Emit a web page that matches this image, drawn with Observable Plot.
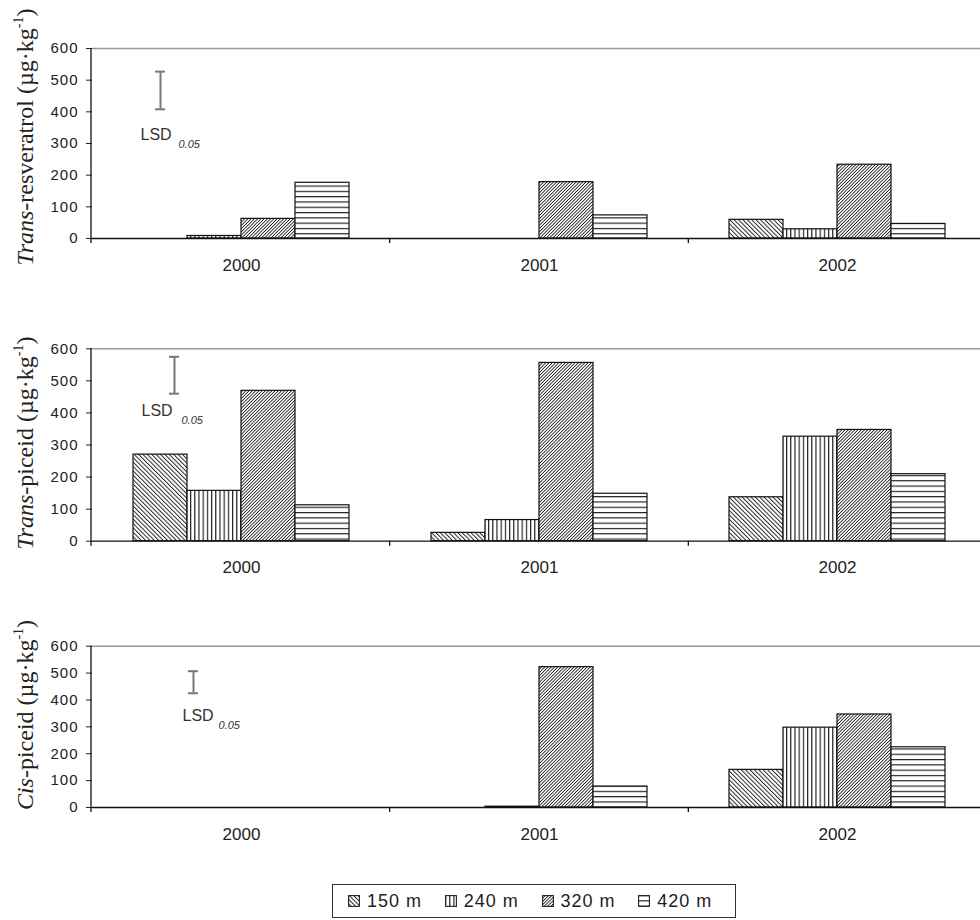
<!DOCTYPE html>
<html>
<head>
<meta charset="utf-8">
<script src="https://cdn.jsdelivr.net/npm/d3@7"></script>
<script src="https://cdn.jsdelivr.net/npm/@observablehq/plot@0.6"></script>
<style>
  html, body { margin: 0; padding: 0; background: white; overflow: hidden; width: 980px; height: 920px; }
  #wrap { position: relative; width: 987px; height: 920px; }
  #wrap svg.panel { display: block; }
  #legend {
    position: absolute; left: 332px; top: 884px; width: 404px; height: 34px;
    border: 1.5px solid #333; box-sizing: border-box; background: white;
    display: flex; align-items: center; padding-left: 15px;
    font-family: "Liberation Sans", Arial, sans-serif; font-size: 18px; color: #222; letter-spacing: 1px;
  }
  #legend .item { display: flex; align-items: center; width: 106px; }
  #legend .item svg { margin-right: 7px; }
</style>
</head>
<body>
<svg width="0" height="0" style="position:absolute">
  <defs>
    <pattern id="pat0" patternUnits="userSpaceOnUse" width="3.1" height="3.1" patternTransform="rotate(-45)">
      <rect width="3.1" height="3.1" fill="white"/>
      <line x1="0.5" y1="-1" x2="0.5" y2="4.1" stroke="#111" stroke-width="0.9"/>
    </pattern>
    <pattern id="pat1" patternUnits="userSpaceOnUse" width="4.2" height="4">
      <rect width="4.2" height="4" fill="white"/>
      <line x1="0.6" y1="-1" x2="0.6" y2="5" stroke="#111" stroke-width="1.1"/>
    </pattern>
    <pattern id="pat2" patternUnits="userSpaceOnUse" width="2.3" height="2.3" patternTransform="rotate(45)">
      <rect width="2.3" height="2.3" fill="white"/>
      <line x1="0.4" y1="-1" x2="0.4" y2="3.3" stroke="#111" stroke-width="0.8"/>
    </pattern>
    <pattern id="pat3" patternUnits="userSpaceOnUse" width="4" height="5.3">
      <rect width="4" height="5.3" fill="white"/>
      <line x1="-1" y1="0.6" x2="5" y2="0.6" stroke="#111" stroke-width="1.1"/>
    </pattern>
  </defs>
</svg>
<div id="wrap"></div>
<div id="legend"></div>
<script>
// ---- data ----
const years = ["2000", "2001", "2002"];
const elevations = ["150 m", "240 m", "320 m", "420 m"];
const yTicks = [0, 100, 200, 300, 400, 500, 600];

// rows: years, columns: elevations (µg·kg-1)
const transResveratrol = [[0, 8, 62, 176], [0, 0, 178, 73], [59, 29, 233, 46]];
const transPiceid = [[270, 157, 469, 112], [26, 66, 556, 148], [137, 326, 347, 209]];
const cisPiceid = [[0, 0, 0, 0], [0, 3, 522, 78], [140, 297, 346, 224]];

// LSD(0.05) indicator per panel
const lsdLow = [408, 460, 425];
const lsdHigh = [527, 575, 507];
const lsdLabelY = [328, 405, 342];
const lsdSubY = [297, 375, 305];

const titlePrefix = ["Trans", "Trans", "Cis"];
const titleRest = ["-resveratrol (µg·kg", "-piceid (µg·kg", "-piceid (µg·kg"];

// ---- styling / layout ----
const patternOf = {"150 m": "url(#pat0)", "240 m": "url(#pat1)", "320 m": "url(#pat2)", "420 m": "url(#pat3)"};
const layouts = [
  {height: 300, marginTop: 48, marginBottom: 62, titleCy: 137, lsdDx: 0, lsdTextDx: -20, lsdSubDx: 18},
  {height: 300, marginTop: 48.3, marginBottom: 59.3, titleCy: 143, lsdDx: 14, lsdTextDx: -19, lsdSubDx: 21},
  {height: 260, marginTop: 45.7, marginBottom: 53, titleCy: 115, lsdDx: 33, lsdTextDx: 22, lsdSubDx: 58}
];
const series = [transResveratrol, transPiceid, cisPiceid];

function makePanel(k) {
  const values = series[k];
  const L = layouts[k];
  const rows = years.flatMap((yr, i) => elevations.map((e, j) => ({year: yr, elev: e, value: values[i][j]})))
    .filter(d => d.value > 0);
  const lsd = [{year: years[0], elev: elevations[0], low: lsdLow[k], high: lsdHigh[k], ly: lsdLabelY[k], sy: lsdSubY[k]}];

  const chart = Plot.plot({
    width: 987,
    height: L.height,
    marginTop: L.marginTop,
    marginBottom: L.marginBottom,
    marginLeft: 91,
    marginRight: 0,
    style: {fontFamily: "'Liberation Sans', Arial, sans-serif", color: "#222", background: "white", maxWidth: "none", overflow: "visible"},
    fx: {domain: years, padding: 0, label: null},
    x: {domain: elevations, paddingInner: 0, paddingOuter: 0.75, axis: null},
    y: {domain: [0, 600], label: null},
    color: {type: "identity"},
    marks: [
      Plot.ruleY([600], {stroke: "#999", strokeWidth: 1.5}),
      Plot.barY(rows, {fx: "year", x: "elev", y: "value", fill: d => patternOf[d.elev], stroke: "#111", strokeWidth: 1.2}),
      Plot.ruleY([0], {stroke: "#111", strokeWidth: 1.3}),
      Plot.axisY({ticks: yTicks, tickSize: 6, tickPadding: 8, fontSize: 15, label: null, tickFormat: d => String(d)}),
      Plot.axisFx({anchor: "bottom", tickSize: 0, tickPadding: 20, fontSize: 17, label: null}),
      Plot.ruleX(lsd, {fx: "year", x: "elev", y1: "low", y2: "high", stroke: "#777", strokeWidth: 2, dx: L.lsdDx}),
      Plot.tickY(lsd, {fx: "year", x: "elev", y: "low", stroke: "#777", strokeWidth: 2, insetLeft: 22, insetRight: 22, dx: L.lsdDx}),
      Plot.tickY(lsd, {fx: "year", x: "elev", y: "high", stroke: "#777", strokeWidth: 2, insetLeft: 22, insetRight: 22, dx: L.lsdDx}),
      Plot.text(lsd, {fx: "year", x: "elev", y: "ly", text: () => "LSD", textAnchor: "start", dx: L.lsdTextDx, fontSize: 16, fill: "#333"}),
      Plot.text(lsd, {fx: "year", x: "elev", y: "sy", text: () => "0.05", textAnchor: "start", dx: L.lsdSubDx, fontSize: 11, fontStyle: "italic", fill: "#333"})
    ]
  });
  chart.classList.add("panel");

  const sel = d3.select(chart);
  // slightly wider y tick labels, like the reference
  sel.selectAll('g[aria-label^="y-axis tick label"] text').style("font-size", "15px").style("letter-spacing", "1px");

  // axis line and category boundary ticks from the plot's own scales
  const ysc = chart.scale("y");
  const fxsc = chart.scale("fx");
  const ys = d3.scaleLinear(ysc.domain, ysc.range);
  const fxs = d3.scaleBand(fxsc.domain, fxsc.range).paddingInner(fxsc.paddingInner || 0).paddingOuter(fxsc.paddingOuter || 0);
  const g = sel.append("g").attr("stroke", "#111").attr("stroke-width", 1.3);
  const x0 = fxs.range()[0];
  g.append("line").attr("x1", x0).attr("x2", x0).attr("y1", ys(600)).attr("y2", ys(0) + 5);
  fxs.domain().slice(1).forEach(v => {
    const xb = fxs(v);
    g.append("line").attr("x1", xb).attr("x2", xb).attr("y1", ys(0)).attr("y2", ys(0) + 5);
  });

  // rotated axis title (rich text)
  const t = sel.append("text")
    .attr("transform", `translate(33,${L.titleCy}) rotate(-90)`)
    .attr("text-anchor", "middle")
    .attr("font-family", "'Liberation Serif', 'Times New Roman', serif")
    .attr("font-size", 24)
    .attr("fill", "#222");
  t.append("tspan").attr("font-style", "italic").text(titlePrefix[k]);
  t.append("tspan").text(titleRest[k]);
  t.append("tspan").attr("font-size", 14).attr("dy", -10).text("-1");
  t.append("tspan").attr("dy", 10).text(")");

  return chart;
}

const wrap = document.getElementById("wrap");
[0, 1, 2].forEach(k => wrap.appendChild(makePanel(k)));

// legend
const legend = document.getElementById("legend");
elevations.forEach(e => {
  const item = document.createElement("div");
  item.className = "item";
  item.innerHTML = `<svg width="12" height="12"><rect x="0.6" y="0.6" width="10.8" height="10.8" fill="${patternOf[e]}" stroke="#222" stroke-width="1.1"/></svg><span>${e}</span>`;
  legend.appendChild(item);
});
</script>
</body>
</html>
